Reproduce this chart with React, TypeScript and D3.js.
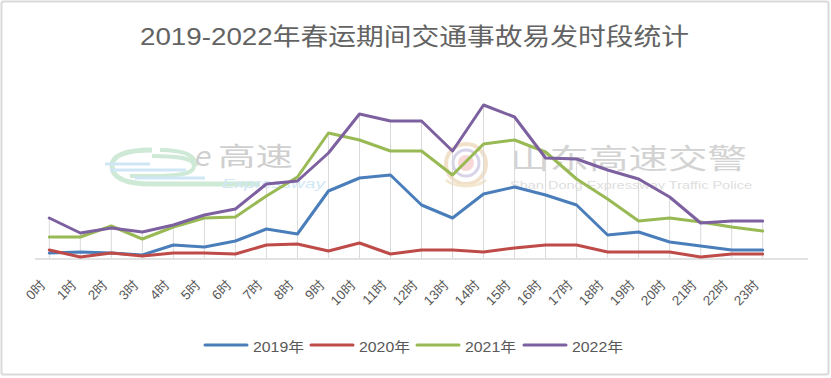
import React from "react";
import * as d3 from "d3";

const hours = ["0时","1时","2时","3时","4时","5时","6时","7时","8时","9时","10时","11时","12时","13时","14时","15时","16时","17时","18时","19时","20时","21时","22时","23时"];
const seriesNames = ["2019年", "2020年", "2021年", "2022年"];
const v2019 = [5, 6, 5, 3, 13, 11, 17, 29, 24, 67, 80, 83, 53, 40, 64, 71, 63, 53, 23, 26, 16, 12, 8, 8];
const v2020 = [8, 1, 5, 2, 5, 5, 4, 13, 14, 7, 15, 4, 8, 8, 6, 10, 13, 13, 6, 6, 6, 1, 4, 4];
const v2021 = [21, 21, 32, 19, 31, 40, 41, 62, 81, 125, 118, 107, 107, 83, 114, 118, 106, 79, 59, 37, 40, 36, 31, 27];
const v2022 = [40, 25, 30, 26, 33, 43, 49, 74, 77, 105, 144, 137, 137, 107, 153, 141, 100, 99, 88, 79, 61, 35, 37, 37];
const titleText = "2019-2022年春运期间交通事故易发时段统计";

const W = 831, H = 378;
const colors = ["#4a7ebb", "#be4b48", "#98b954", "#7d60a0"];
const font = "'Liberation Sans','Noto Sans CJK SC',sans-serif";

export default function App() {
  const all = [v2019, v2020, v2021, v2022];
  const x = d3.scalePoint<string>().domain(hours).range([49.3, 762.7]);
  const y = d3.scaleLinear().domain([0, 160]).range([258, 98]);
  const line = d3.line<number>().x((_, i) => x(hours[i]) as number).y((d) => y(d));
  const maxes = hours.map((_, i) => d3.max(all, (s) => s[i]) as number);
  const legendX = [205, 311, 417, 524];

  return (
    <div style={{ position: "absolute", left: 0, top: 0 }}>
      <svg width={W} height={H} style={{ display: "block", fontFamily: font }}>
        <rect x={0} y={0} width={W} height={H} fill="#fff" />
        <rect x={1.5} y={1.5} width={827} height={373} fill="none" stroke="#d9d9d9" strokeWidth={2} rx={2} />
        <text x={414.5} y={45} textAnchor="middle" fontSize={24} fill="#636363" textLength={549} lengthAdjust="spacingAndGlyphs">{titleText}</text>

        {/* watermarks */}
        <g opacity={0.55}>
          <path d="M152,150 C120,150 112,158 112,166 C112,176 122,184 152,184 L260,184" fill="none" stroke="#a8d8b8" strokeWidth={5} />
          <path d="M152,156 C186,156 194,160 194,166 C194,172 186,176 152,176 L130,176" fill="none" stroke="#a8d8b8" strokeWidth={4} />
          <path d="M160,150 C186,150 196,156 196,166" fill="none" stroke="#a8d8b8" strokeWidth={4} />
          <line x1={105} y1={164} x2={150} y2={164} stroke="#a9d4ee" strokeWidth={3} />
          <line x1={110} y1={170} x2={186} y2={170} stroke="#a9d4ee" strokeWidth={3} />
          <line x1={135} y1={178} x2={205} y2={178} stroke="#a9d4ee" strokeWidth={3} />
          <text x={195} y={166} fontSize={27} fill="#a8a8a8" fontStyle="italic" fontFamily="'DejaVu Sans',sans-serif">e</text>
          <text x={218} y={166} fontSize={26} fill="#a8a8a8" textLength={75} lengthAdjust="spacingAndGlyphs" fontFamily="'Noto Sans CJK SC',sans-serif">高速</text>
          <text x={222} y={188} fontSize={13} fill="#a9d4ee" fontStyle="italic" textLength={103} lengthAdjust="spacingAndGlyphs">Expressway</text>
          <circle cx={466} cy={164} r={20} fill="none" stroke="#e7c9a0" strokeWidth={4} />
          <circle cx={466} cy={163} r={13} fill="none" stroke="#b8b0d8" strokeWidth={3} />
          <circle cx={466} cy={163} r={8} fill="#f3b8b8" />
          <path d="M446,180 C455,188 477,188 486,180" fill="none" stroke="#ead7a8" strokeWidth={3} />
          <text x={510} y={169} fontSize={28} fill="#b0b0b0" textLength={237} lengthAdjust="spacingAndGlyphs" fontFamily="'Noto Sans CJK SC',sans-serif">山东高速交警</text>
          <text x={510} y={189} fontSize={11} fill="#c4c4c4" textLength={242} lengthAdjust="spacingAndGlyphs">Shan Dong Expressway Traffic Police</text>
        </g>

        {/* drop lines */}
        {hours.map((h, i) => (
          <line key={h} x1={x(h)} x2={x(h)} y1={y(maxes[i])} y2={y(0)} stroke="#d9d9d9" strokeWidth={1} />
        ))}
        {/* axis */}
        <line x1={35} x2={808} y1={259} y2={259} stroke="#d9d9d9" strokeWidth={1.5} />

        {all.map((s, k) => (
          <path key={k} d={line(s) as string} fill="none" stroke={colors[k]} strokeWidth={3} strokeLinejoin="round" strokeLinecap="round" />
        ))}

        {hours.map((h) => (
          <text key={h} transform={`translate(${(x(h) as number) - 3},286) rotate(-45)`} textAnchor="end" fontSize={13.5} fill="#595959">{h}</text>
        ))}

        {seriesNames.map((n, k) => (
          <g key={n}>
            <line x1={legendX[k]} x2={legendX[k] + 42} y1={345} y2={345} stroke={colors[k]} strokeWidth={3} strokeLinecap="round" />
            <text x={legendX[k] + 48} y={352} fontSize={14} fill="#595959" textLength={51} lengthAdjust="spacingAndGlyphs">{n}</text>
          </g>
        ))}
      </svg>
    </div>
  );
}
